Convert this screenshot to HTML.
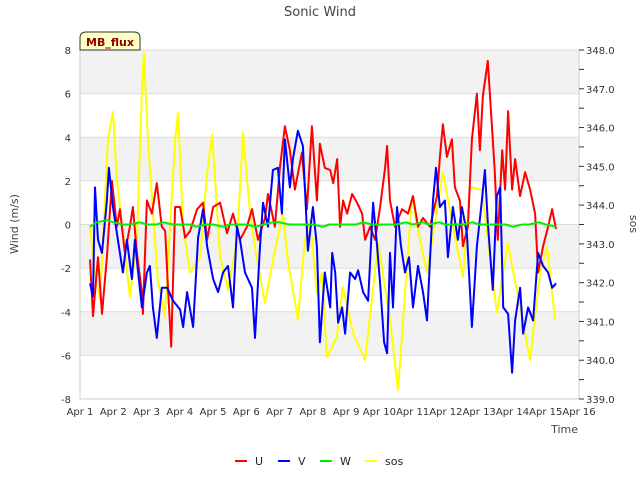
<!DOCTYPE html>
<html><head><meta charset="utf-8"><style>
body{margin:0;background:#fff;}
svg{display:block;font-family:"DejaVu Sans","Liberation Sans",sans-serif;}
</style></head><body>
<svg id="chart" width="640" height="480" viewBox="0 0 640 480">
<text x="320" y="16" text-anchor="middle" font-size="13" fill="#444">Sonic Wind</text>
<g id="bg"></g><g id="axes"></g><g id="series"></g>
<g>
<path d="M80,50 L80,38 Q80,32 86,32 L134,32 Q140,32 140,38 L140,50 Z" fill="#ffffc4" stroke="#333" stroke-width="1"/>
<text x="110" y="46" text-anchor="middle" font-size="11" font-weight="bold" fill="#8b0000">MB_flux</text>
</g>
<text transform="translate(18,224) rotate(-90)" text-anchor="middle" font-size="11" fill="#444">Wind (m/s)</text>
<text transform="translate(630,224) rotate(90)" text-anchor="middle" font-size="11" fill="#444">sos</text>
<text x="578" y="433" text-anchor="end" font-size="11" fill="#444">Time</text>
<g id="legend"></g>
</svg>
<script>
const dayTicks=["Apr 1","Apr 2","Apr 3","Apr 4","Apr 5","Apr 6","Apr 7","Apr 8","Apr 9","Apr 10","Apr 11","Apr 12","Apr 13","Apr 14","Apr 15","Apr 16"];
const leftTicks=[-8,-6,-4,-2,0,2,4,6,8];
const rightTicks=[339,340,341,342,343,344,345,346,347,348];
const uT=[1.30,1.39,1.54,1.66,1.81,1.96,2.11,2.20,2.35,2.50,2.59,2.71,2.86,2.89,3.01,3.16,3.31,3.46,3.56,3.65,3.74,3.86,4.01,4.16,4.31,4.52,4.70,4.82,5.00,5.21,5.42,5.60,5.81,6.02,6.17,6.35,6.56,6.65,6.86,7.01,7.16,7.31,7.46,7.67,7.82,7.97,8.12,8.21,8.36,8.52,8.61,8.73,8.82,8.91,9.03,9.18,9.33,9.48,9.57,9.72,9.87,10.02,10.17,10.23,10.32,10.47,10.68,10.86,11.01,11.16,11.31,11.52,11.73,11.82,11.91,12.03,12.18,12.27,12.42,12.51,12.66,12.78,12.93,13.02,13.11,13.26,13.38,13.47,13.56,13.69,13.78,13.87,13.99,14.08,14.23,14.38,14.53,14.68,14.77,14.92,15.07,15.19,15.31];
const uV=[-1.6,-4.2,-1.5,-4.1,-1.5,2.0,-0.1,0.7,-1.3,-0.1,0.8,-1.3,-3.1,-4.1,1.1,0.5,1.9,-0.1,-0.3,-3.1,-5.6,0.8,0.8,-0.6,-0.3,0.7,1.0,-0.7,0.8,1.0,-0.4,0.5,-0.7,-0.1,0.7,-0.7,0.3,1.4,-0.1,2.6,4.5,3.4,1.6,3.3,0.7,4.5,1.1,3.7,2.6,2.5,1.9,3.0,-0.1,1.1,0.5,1.4,1.0,0.5,-0.7,-0.1,-0.7,0.8,2.6,3.6,1.1,-0.1,0.7,0.5,1.3,-0.1,0.3,-0.1,1.3,3.1,4.6,3.1,3.9,1.7,1.1,-1.0,-0.1,3.9,6.0,3.4,5.9,7.5,4.6,2.4,-0.7,3.4,1.6,5.2,1.6,3.0,1.3,2.4,1.6,0.5,-2.2,-1.0,-0.1,0.7,-0.2];
const vT=[1.30,1.39,1.45,1.54,1.66,1.81,1.87,1.99,2.14,2.29,2.41,2.56,2.65,2.74,2.86,3.01,3.10,3.19,3.31,3.46,3.62,3.80,4.01,4.10,4.22,4.40,4.55,4.70,4.82,5.00,5.15,5.30,5.45,5.60,5.72,5.81,5.96,6.17,6.26,6.41,6.50,6.65,6.80,6.95,7.07,7.16,7.31,7.40,7.55,7.70,7.85,8.00,8.12,8.21,8.36,8.52,8.58,8.67,8.76,8.88,8.97,9.12,9.27,9.36,9.51,9.66,9.81,9.93,10.02,10.14,10.23,10.32,10.41,10.53,10.65,10.77,10.89,11.01,11.16,11.31,11.43,11.52,11.61,11.70,11.82,11.97,12.06,12.21,12.36,12.48,12.63,12.78,12.93,13.08,13.17,13.26,13.41,13.53,13.63,13.72,13.87,13.99,14.08,14.23,14.32,14.47,14.62,14.77,14.92,15.07,15.19,15.31];
const vV=[-2.7,-3.3,1.7,-0.7,-1.3,1.1,2.6,0.8,-0.7,-2.2,-0.7,-2.5,-0.7,-2.1,-3.8,-2.2,-1.9,-3.8,-5.2,-2.9,-2.9,-3.5,-3.9,-4.7,-3.1,-4.7,-0.6,0.7,-1.0,-2.5,-3.1,-2.2,-1.9,-3.8,-0.1,-0.7,-2.2,-2.9,-5.2,-1.0,1.0,-0.1,2.5,2.6,0.5,3.9,1.7,3.0,4.3,3.6,-1.2,0.8,-1.0,-5.4,-2.2,-3.8,-1.3,-2.2,-4.5,-3.8,-5.0,-2.2,-2.5,-2.1,-3.1,-3.5,1.0,-1.0,-2.7,-5.4,-5.9,-1.3,-3.8,0.8,-1.0,-2.2,-1.5,-3.8,-1.9,-3.1,-4.4,-1.6,1.1,2.6,0.8,1.1,-1.5,0.8,-0.7,0.8,-0.4,-4.7,-1.0,1.1,2.5,0.1,-3.0,1.3,1.7,-3.8,-4.1,-6.8,-4.4,-2.9,-5.0,-3.8,-4.4,-1.3,-1.9,-2.2,-2.9,-2.7];
const wT=[1.3,1.5,1.8,2.0,2.3,2.5,2.8,3.0,3.3,3.5,3.8,4.0,4.3,4.5,4.8,5.0,5.3,5.5,5.8,6.0,6.3,6.5,6.8,7.0,7.3,7.5,7.8,8.0,8.3,8.5,8.8,9.0,9.3,9.5,9.8,10.0,10.3,10.5,10.8,11.0,11.3,11.5,11.8,12.0,12.3,12.5,12.8,13.0,13.3,13.5,13.8,14.0,14.3,14.5,14.8,15.0,15.3];
const wV=[-0.1,0.1,0.2,0.1,0.0,0.0,0.1,0.0,0.0,0.1,0.0,0.0,0.0,-0.1,0.0,0.0,-0.1,0.0,0.0,0.0,-0.1,0.0,0.1,0.1,0.0,0.0,0.0,0.0,-0.1,0.0,0.0,0.0,0.0,0.1,0.0,0.0,0.0,0.0,0.1,0.0,0.1,0.0,0.1,0.0,0.0,0.0,0.1,0.0,0.0,0.0,0.0,-0.1,0.0,0.0,0.1,0.0,-0.1];
const sT=[1.30,1.45,1.60,1.84,1.99,2.11,2.29,2.50,2.71,2.86,2.92,3.04,3.16,3.34,3.55,3.86,3.95,4.10,4.31,4.61,4.82,4.97,5.06,5.21,5.45,5.72,5.90,6.11,6.32,6.56,6.80,7.10,7.25,7.55,7.76,7.91,8.12,8.27,8.42,8.72,8.90,9.21,9.57,9.96,10.32,10.56,10.98,11.22,11.43,11.91,12.51,12.72,13.08,13.53,13.86,14.53,14.83,15.04,15.28];
const sV=[343.44,342.25,341.55,345.68,346.40,344.65,343.28,341.63,343.10,346.97,347.92,345.68,344.21,342.07,341.12,345.68,346.38,343.44,342.25,342.66,344.83,345.81,344.65,342.66,341.81,343.10,345.86,343.80,342.58,341.48,342.58,343.80,342.58,341.04,343.10,343.62,341.73,342.25,340.08,340.60,341.89,340.70,340.01,343.02,341.04,339.23,344.21,343.10,342.25,344.83,342.15,344.47,344.39,341.22,343.02,340.01,342.25,342.92,341.04];

const NS="http://www.w3.org/2000/svg";
const X0=80,X1=579,Y0=50,Y1=399;
const xs=d=>X0+(d-1)/15*(X1-X0);
const yL=v=>Y1-(v+8)/16*(Y1-Y0);
const yR=v=>Y1-(v-339)/9*(Y1-Y0);
function mk(tag,attrs,parent){const e=document.createElementNS(NS,tag);for(const k in attrs)e.setAttribute(k,attrs[k]);parent.appendChild(e);return e;}
const bg=document.getElementById('bg'),ax=document.getElementById('axes'),se=document.getElementById('series'),lg=document.getElementById('legend');
mk('rect',{x:X0,y:Y0,width:X1-X0,height:Y1-Y0,fill:'#fff'},bg);
for(let i=0;i<leftTicks.length-1;i++){
  if((leftTicks.length-2-i)%2===0){
    const r=mk('rect',{x:X0,y:yL(leftTicks[i+1]),width:X1-X0,height:yL(leftTicks[i])-yL(leftTicks[i+1]),fill:'#f2f2f2'},bg);
    
    
  }
}
leftTicks.forEach(v=>{
  const l=mk('line',{x1:X0,x2:X1,y1:yL(v),y2:yL(v),stroke:'#dcdcdc','stroke-width':1},bg);
  
  
  const t=mk('text',{x:X0-9,y:yL(v)+4,'text-anchor':'end','font-size':10,fill:'#333'},ax);
  t.textContent=v;
  
  
});
mk('line',{x1:X0,x2:X0,y1:Y0,y2:Y1,stroke:'#ccc'},ax);
mk('line',{x1:X0,x2:X1,y1:Y1,y2:Y1,stroke:'#ccc'},ax);
mk('line',{x1:X1,x2:X1,y1:Y0,y2:Y1,stroke:'#ccc'},ax);
rightTicks.forEach(v=>{
  mk('line',{x1:X1,x2:X1+5,y1:yR(v),y2:yR(v),stroke:'#333'},ax);
  if(v<348) mk('line',{x1:X1,x2:X1+5,y1:yR(v+0.5),y2:yR(v+0.5),stroke:'#333'},ax);
  const t=mk('text',{x:X1+7,y:yR(v)+4,'font-size':10,fill:'#333'},ax);
  t.textContent=v.toFixed(1);
  
  
});
dayTicks.forEach((s,i)=>{
  const t=mk('text',{x:xs(i+1),y:Y1+16,'text-anchor':'middle','font-size':10,fill:'#333'},ax);
  t.textContent=s;
  
  
});
function line(T,V,yf,color,name){
  const p=mk('polyline',{points:T.map((t,i)=>xs(t).toFixed(1)+','+yf(V[i]).toFixed(1)).join(' '),fill:'none',stroke:color,'stroke-width':2,'stroke-linejoin':'round'},se);
  
  
}
line(sT,sV,yR,'#ffff00','sos-line');
line(uT,uV,yL,'#ff0000','u-line');
line(vT,vV,yL,'#0000ff','v-line');
line(wT,wV,yL,'#00ee00','w-line');
const leg=[["U","#ff0000",235],["V","#0000ff",278],["W","#00ee00",320],["sos","#ffff00",365]];
leg.forEach(([n,c,x])=>{
  const g=mk('g',{},lg);
  
  
  mk('line',{x1:x,x2:x+12,y1:461,y2:461,stroke:c,'stroke-width':2},g);
  const t=mk('text',{x:x+20,y:465,'font-size':11,fill:'#222'},g);
  t.textContent=n;
});
</script>
</body></html>
